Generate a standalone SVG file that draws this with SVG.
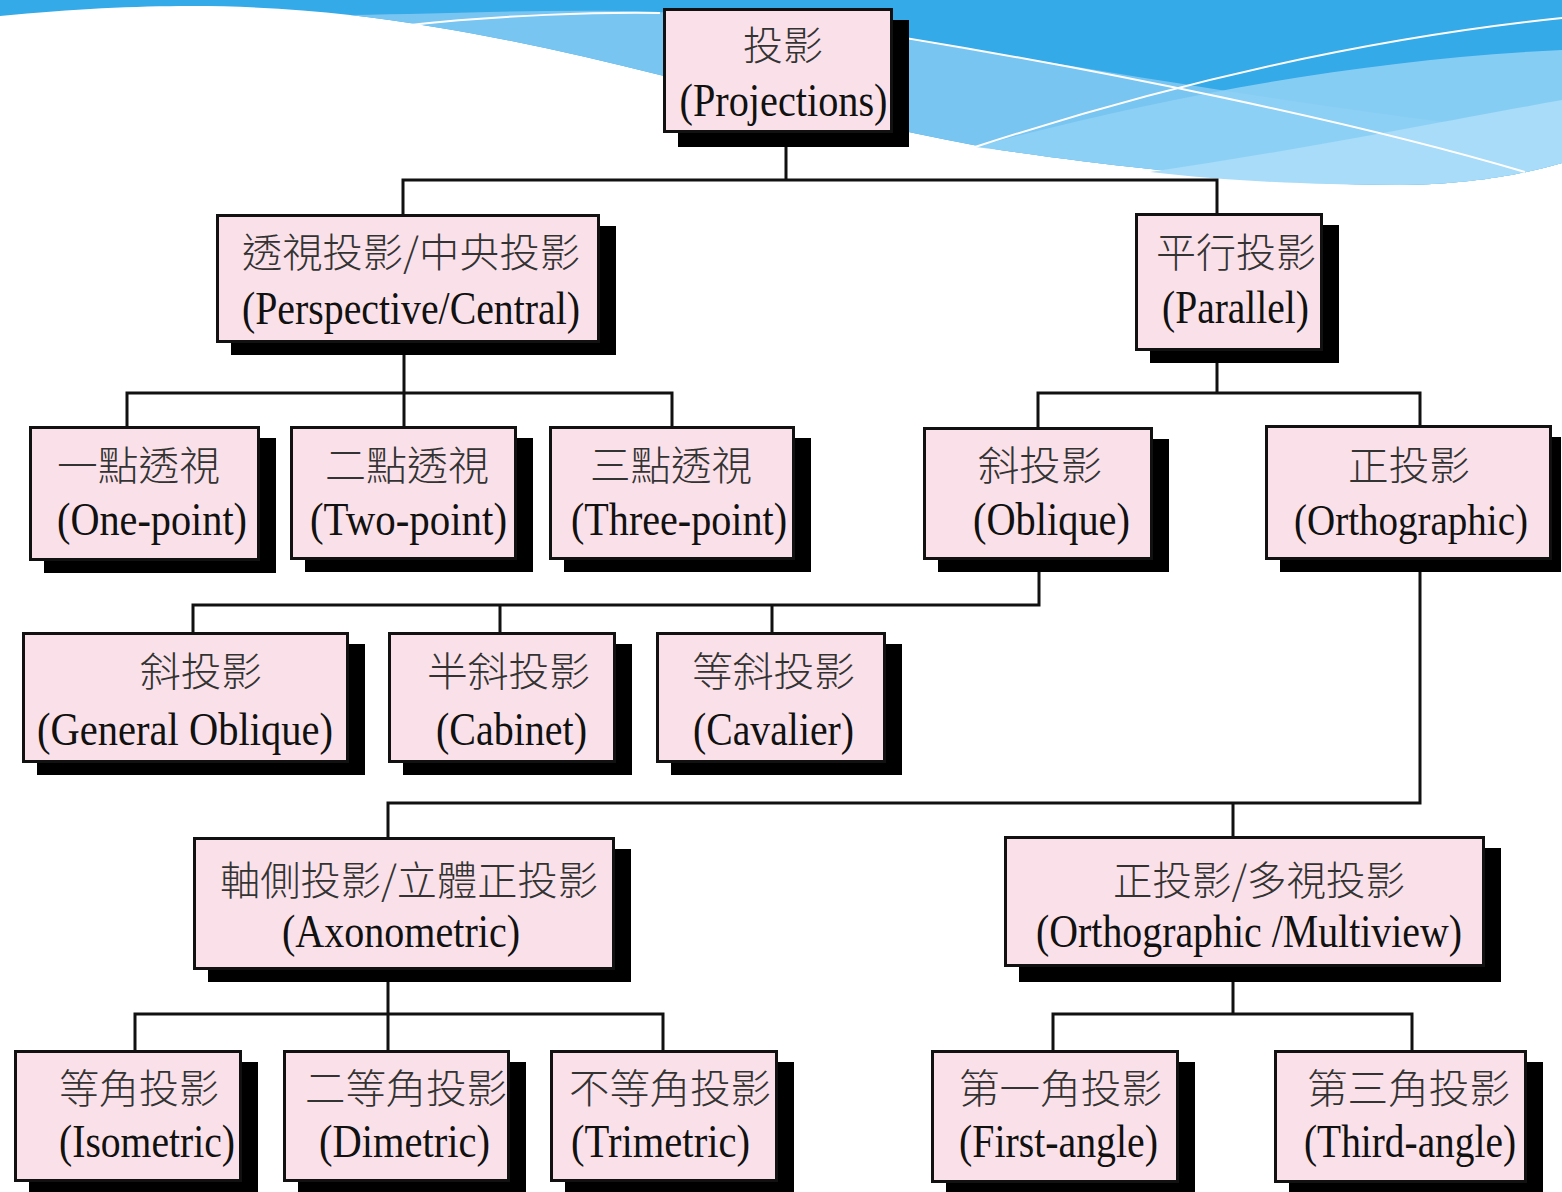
<svg xmlns="http://www.w3.org/2000/svg" width="1562" height="1192" viewBox="0 0 1562 1192">
<defs>
<style>
.bg{fill:#ffffff}
.sh{fill:#000000}
.bx{fill:#fae1e9;stroke:#111111;stroke-width:3}
.cn{fill:none;stroke:#111111;stroke-width:3;stroke-linecap:square}
.zh{font-family:"Noto Sans CJK TC","Noto Sans CJK SC",sans-serif;font-size:40px;font-weight:300;fill:#333333;text-anchor:middle}
.en{font-family:"Liberation Serif","Times New Roman",serif;font-size:46px;fill:#111111;text-anchor:middle}
.wl{fill:none;stroke:#ffffff;stroke-width:2}
</style>
</defs>
<rect class="bg" x="0" y="0" width="1562" height="1192"/>
<g id="background">
<path d="M0,0 H1562 V163 C1520,175 1470,184 1400,185 C1300,185 1150,172 1000,150 C900,132 760,100 660,75 C560,50 460,28 350,15 C250,4 150,2 0,16 Z" fill="#34aae9"/>
<path d="M350,15 C450,14 560,8 660,12 L910,40 C1100,70 1350,115 1562,135 V163 C1520,175 1470,184 1400,185 C1300,185 1150,172 1000,150 C900,132 760,100 660,75 C560,50 460,28 350,15 Z" fill="#79c5f1"/>
<path d="M975,147 C1150,100 1350,60 1562,50 V163 C1520,175 1470,184 1400,185 C1300,185 1150,172 1000,150 Z" fill="#8fd0f5" opacity="0.9"/>
<path d="M1150,172 C1300,150 1450,120 1562,100 V163 C1520,175 1470,184 1400,185 C1300,185 1220,180 1150,172 Z" fill="#a8dcf9"/>
<path class="wl" d="M410,25 C500,15 600,12 660,13"/>
<path class="wl" d="M905,38 C1100,70 1350,120 1525,172"/>
<path class="wl" d="M975,147 C1150,90 1350,40 1562,18"/>
</g>
<g id="connectors">
<path class="cn" d="M786,147 V180 M403,214 V180 H1217 V213"/>
<path class="cn" d="M404,343 V393 M127,426 V393 H672 V426 M404,393 V426"/>
<path class="cn" d="M1217,351 V393 M1038,427 V393 H1420 V425"/>
<path class="cn" d="M1039,560 V605 M193,632 V605 H1039 M500,605 V632 M772,605 V632"/>
<path class="cn" d="M1420,560 V803 H388 V837 M1233,803 V836"/>
<path class="cn" d="M388,970 V1050 M135,1050 V1014 H663 V1050"/>
<path class="cn" d="M1233,967 V1014 M1053,1050 V1014 H1412 V1050"/>
</g>
<g id="projections">
<rect class="sh" x="678" y="20" width="231" height="127"/>
<rect class="bx" x="664.5" y="9.5" width="227" height="122"/>
<text class="zh" x="783" y="60" textLength="80" lengthAdjust="spacingAndGlyphs">投影</text>
<text class="en" x="783.5" y="116" textLength="208" lengthAdjust="spacingAndGlyphs">(Projections)</text>
</g>
<g id="perspective">
<rect class="sh" x="231" y="226" width="385" height="129"/>
<rect class="bx" x="217.5" y="215.5" width="381" height="126"/>
<text class="zh" x="411" y="267" textLength="338" lengthAdjust="spacingAndGlyphs">透視投影/中央投影</text>
<text class="en" x="411" y="324" textLength="338" lengthAdjust="spacingAndGlyphs">(Perspective/Central)</text>
</g>
<g id="parallel">
<rect class="sh" x="1150" y="225" width="189" height="138"/>
<rect class="bx" x="1136.5" y="214.5" width="185" height="135"/>
<text class="zh" x="1236" y="267" textLength="160" lengthAdjust="spacingAndGlyphs">平行投影</text>
<text class="en" x="1235.5" y="323" textLength="147" lengthAdjust="spacingAndGlyphs">(Parallel)</text>
</g>
<g id="one-point">
<rect class="sh" x="44" y="438" width="232" height="135"/>
<rect class="bx" x="30.5" y="427.5" width="228" height="132"/>
<text class="zh" x="138.5" y="480" textLength="163" lengthAdjust="spacingAndGlyphs">一點透視</text>
<text class="en" x="152" y="535" textLength="190" lengthAdjust="spacingAndGlyphs">(One-point)</text>
</g>
<g id="two-point">
<rect class="sh" x="305" y="438" width="228" height="134"/>
<rect class="bx" x="291.5" y="427.5" width="224" height="131"/>
<text class="zh" x="407" y="480" textLength="164" lengthAdjust="spacingAndGlyphs">二點透視</text>
<text class="en" x="408.5" y="535" textLength="197" lengthAdjust="spacingAndGlyphs">(Two-point)</text>
</g>
<g id="three-point">
<rect class="sh" x="564" y="438" width="247" height="134"/>
<rect class="bx" x="550.5" y="427.5" width="243" height="131"/>
<text class="zh" x="671" y="480" textLength="162" lengthAdjust="spacingAndGlyphs">三點透視</text>
<text class="en" x="679" y="535" textLength="216" lengthAdjust="spacingAndGlyphs">(Three-point)</text>
</g>
<g id="oblique">
<rect class="sh" x="938" y="439" width="231" height="133"/>
<rect class="bx" x="924.5" y="428.5" width="227" height="130"/>
<text class="zh" x="1040" y="480" textLength="124" lengthAdjust="spacingAndGlyphs">斜投影</text>
<text class="en" x="1051.5" y="535" textLength="157" lengthAdjust="spacingAndGlyphs">(Oblique)</text>
</g>
<g id="orthographic">
<rect class="sh" x="1280" y="437" width="281" height="135"/>
<rect class="bx" x="1266.5" y="426.5" width="284" height="132"/>
<text class="zh" x="1409" y="480" textLength="122" lengthAdjust="spacingAndGlyphs">正投影</text>
<text class="en" x="1411" y="535" style="font-size:45px" textLength="234" lengthAdjust="spacingAndGlyphs">(Orthographic)</text>
</g>
<g id="general-oblique">
<rect class="sh" x="37" y="644" width="328" height="131"/>
<rect class="bx" x="23.5" y="633.5" width="324" height="128"/>
<text class="zh" x="201" y="686" textLength="122" lengthAdjust="spacingAndGlyphs">斜投影</text>
<text class="en" x="185" y="745" textLength="296" lengthAdjust="spacingAndGlyphs">(General Oblique)</text>
</g>
<g id="cabinet">
<rect class="sh" x="403" y="644" width="229" height="131"/>
<rect class="bx" x="389.5" y="633.5" width="225" height="128"/>
<text class="zh" x="508.5" y="686" textLength="163" lengthAdjust="spacingAndGlyphs">半斜投影</text>
<text class="en" x="511.5" y="745" textLength="151" lengthAdjust="spacingAndGlyphs">(Cabinet)</text>
</g>
<g id="cavalier">
<rect class="sh" x="671" y="644" width="231" height="131"/>
<rect class="bx" x="657.5" y="633.5" width="227" height="128"/>
<text class="zh" x="773.5" y="686" textLength="163" lengthAdjust="spacingAndGlyphs">等斜投影</text>
<text class="en" x="773.5" y="745" textLength="161" lengthAdjust="spacingAndGlyphs">(Cavalier)</text>
</g>
<g id="axonometric">
<rect class="sh" x="208" y="849" width="423" height="133"/>
<rect class="bx" x="194.5" y="838.5" width="419" height="130"/>
<text class="zh" x="409" y="895" textLength="378" lengthAdjust="spacingAndGlyphs">軸側投影/立體正投影</text>
<text class="en" x="401" y="947" textLength="238" lengthAdjust="spacingAndGlyphs">(Axonometric)</text>
</g>
<g id="multiview">
<rect class="sh" x="1019" y="848" width="482" height="134"/>
<rect class="bx" x="1005.5" y="837.5" width="478" height="128"/>
<text class="zh" x="1259" y="895" textLength="292" lengthAdjust="spacingAndGlyphs">正投影/多視投影</text>
<text class="en" x="1249" y="947" textLength="426" lengthAdjust="spacingAndGlyphs">(Orthographic /Multiview)</text>
</g>
<g id="isometric">
<rect class="sh" x="29" y="1062" width="229" height="130"/>
<rect class="bx" x="15.5" y="1051.5" width="225" height="129"/>
<text class="zh" x="139" y="1103" textLength="160" lengthAdjust="spacingAndGlyphs">等角投影</text>
<text class="en" x="147" y="1157" textLength="176" lengthAdjust="spacingAndGlyphs">(Isometric)</text>
</g>
<g id="dimetric">
<rect class="sh" x="298" y="1062" width="228" height="130"/>
<rect class="bx" x="284.5" y="1051.5" width="224" height="129"/>
<text class="zh" x="406" y="1103" textLength="202" lengthAdjust="spacingAndGlyphs">二等角投影</text>
<text class="en" x="404.5" y="1157" textLength="171" lengthAdjust="spacingAndGlyphs">(Dimetric)</text>
</g>
<g id="trimetric">
<rect class="sh" x="565" y="1062" width="229" height="130"/>
<rect class="bx" x="551.5" y="1051.5" width="225" height="129"/>
<text class="zh" x="670" y="1103" textLength="202" lengthAdjust="spacingAndGlyphs">不等角投影</text>
<text class="en" x="660.5" y="1157" textLength="179" lengthAdjust="spacingAndGlyphs">(Trimetric)</text>
</g>
<g id="first-angle">
<rect class="sh" x="946" y="1062" width="249" height="130"/>
<rect class="bx" x="932.5" y="1051.5" width="245" height="130"/>
<text class="zh" x="1060.5" y="1103" textLength="203" lengthAdjust="spacingAndGlyphs">第一角投影</text>
<text class="en" x="1058.5" y="1157" textLength="199" lengthAdjust="spacingAndGlyphs">(First-angle)</text>
</g>
<g id="third-angle">
<rect class="sh" x="1289" y="1062" width="254" height="130"/>
<rect class="bx" x="1275.5" y="1051.5" width="250" height="130"/>
<text class="zh" x="1408.5" y="1103" textLength="203" lengthAdjust="spacingAndGlyphs">第三角投影</text>
<text class="en" x="1410" y="1157" textLength="212" lengthAdjust="spacingAndGlyphs">(Third-angle)</text>
</g>
</svg>
